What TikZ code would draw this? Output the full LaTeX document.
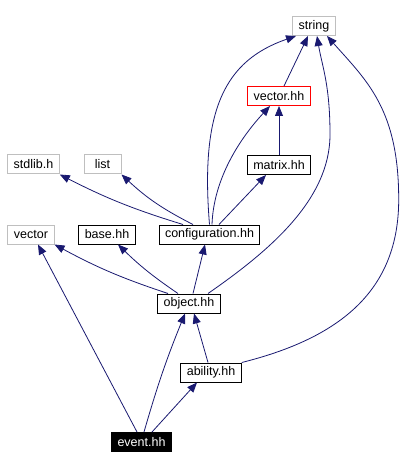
\documentclass[tikz,border=0pt]{standalone}
\usepackage{fontspec}
\setmainfont{Liberation Sans}
\usetikzlibrary{arrows.meta}
\definecolor{edgeblue}{RGB}{25,25,112}
\definecolor{boxgray}{RGB}{191,191,191}
\begin{document}
\begin{tikzpicture}[x=1pt,y=1pt,every node/.style={font=\fontsize{12.5}{14}\selectfont}, file/.style={draw,line width=1pt,inner xsep=6pt,inner ysep=0pt,minimum height=19pt}, sys/.style={file,draw=boxgray}, main/.style={file,draw=red}, cur/.style={file,fill=black,text=white}, dep/.style={draw=edgeblue,line width=0.8pt,-{Triangle[length=10pt,width=8pt]}}]
\useasboundingbox (0,0) rectangle (417,-470);
\node[sys] (str) at (314,-26) {string};
\node[main] (vech) at (279,-96) {vector.hh};
\node[file] (mat) at (279,-165) {matrix.hh};
\node[sys] (stdl) at (33.5,-164.5) {stdlib.h};
\node[sys,minimum width=37pt] (lst) at (102.5,-164.5) {list};
\node[file] (cfg) at (209.5,-234.5) {configuration.hh};
\node[sys] (vec) at (31,-234.5) {vector};
\node[file] (base) at (107,-234.5) {base.hh};
\node[file] (obj) at (189,-303.5) {object.hh};
\node[file] (abil) at (211,-372.5) {ability.hh};
\node[cur] (evt) at (141.5,-442) {event.hh};
\draw[dep] ([xshift=5pt]vech.north) -- ([xshift=-6pt]str.south);
\draw[dep] (mat.north) -- (vech.south);
\draw[dep] ([xshift=9.5pt]cfg.north) -- ([xshift=-13pt]mat.south);
\draw[dep] ([xshift=2.5pt]cfg.north) .. controls +(1.5,44) and +(-32,-34.5) .. ([xshift=-9pt]vech.south);
\draw[dep] (cfg.north) .. controls +(-9.5,115) and +(-71,-24.5) .. ([xshift=-18pt]str.south);
\draw[dep] ([xshift=19pt]obj.north) .. controls +(62,43) and +(0,-65) .. ++(122,159) .. controls +(0,50) and +(5,-30) .. ([xshift=3pt]str.south);
\draw[dep] (abil.north east) .. controls +(100,25) and +(0,-90) .. ++(157,163) .. controls +(0,90) and +(40,-45) .. ([xshift=13pt]str.south);
\draw[dep] ([xshift=-26.5pt]cfg.north) to[bend left=5] (stdl.south east);
\draw[dep] ([xshift=-16.5pt]cfg.north) to[bend left=8] (lst.south east);
\draw[dep] ([xshift=4pt]obj.north) -- ([xshift=-4.5pt]cfg.south);
\draw[dep] ([xshift=-21pt]obj.north) to[bend left=5] (vec.south east);
\draw[dep] ([xshift=-11pt]obj.north) to[bend left=5] ([xshift=11pt]base.south);
\draw[dep] ([xshift=-3pt]abil.north) -- ([xshift=5pt]obj.south);
\draw[dep] ([xshift=-4.5pt]evt.north) -- ([xshift=7pt]vec.south);
\draw[dep] ([xshift=2.5pt]evt.north) to[bend left=3] ([xshift=-4pt]obj.south);
\draw[dep] ([xshift=10.5pt]evt.north) -- ([xshift=-14pt]abil.south);
\end{tikzpicture}
\end{document}
